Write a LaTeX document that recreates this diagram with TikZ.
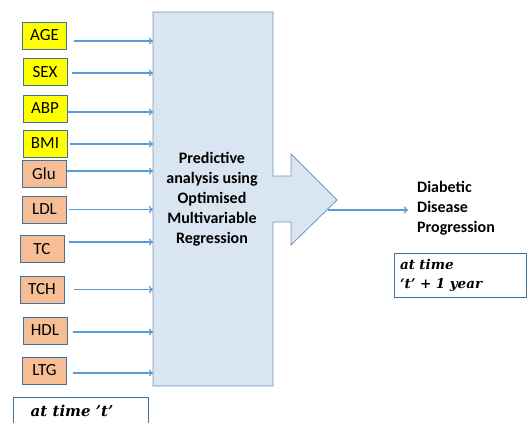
\documentclass[tikz,border=0pt]{standalone}
\usepackage{fontspec}
\newfontfamily\calibri{Carlito}
\newfontfamily\cambria{DejaVu Serif}
\usetikzlibrary{arrows.meta}
\definecolor{boxline}{HTML}{41719C}
\definecolor{inyellow}{HTML}{FFFF00}
\definecolor{inorange}{HTML}{F7BE95}
\definecolor{modelfill}{HTML}{DAE5F2}
\definecolor{modelline}{HTML}{7393B8}
\definecolor{flowline}{HTML}{5B9BD5}
\tikzset{
  inbox/.style={draw=boxline, line width=1pt, minimum width=44pt, minimum height=27pt, inner sep=0pt, font=\calibri\fontsize{17}{19}\selectfont},
  flow/.style={draw=flowline, line width=1.3pt, -{To[length=4pt,width=7pt]}},
  timebox/.style={draw=boxline, line width=1pt, fill=white},
}
\begin{document}
\begin{tikzpicture}[x=1pt,y=-1pt]
\path[use as bounding box] (0,0) rectangle (528,423);
\clip (0,0) rectangle (528,423);
% model block and its big arrow
\draw[modelline, fill=modelfill, line width=0.8pt] (153,12) -- (273,12) -- (273,176) -- (291,176) -- (291,154) -- (337,200) coordinate (tip) -- (291,245) -- (291,222) -- (273,222) -- (273,386) -- (153,386) -- cycle;
\coordinate (modelW) at (153,200);
\node[font=\calibri\bfseries\fontsize{16}{20}\selectfont, align=center] (model) at (212,199) {Predictive\\analysis using\\Optimised\\Multivariable\\Regression};
% input variables
\foreach \nm/\lbl/\col/\cx/\cy/\gap/\dy in {age/AGE/inyellow/44.5/35.5/7/5.5, sex/SEX/inyellow/45/72/4/1, abp/ABP/inyellow/45/108.5/0/3.5, bmi/BMI/inyellow/45/143.5/2/0.5, glu/Glu/inorange/44/174/0/-3, ldl/LDL/inorange/44.5/209.5/2/0, tc/TC/inorange/42/249/4/-7, tch/TCH/inorange/42/289.5/9/0, hdl/HDL/inorange/45/330.5/5/1.5, ltg/LTG/inorange/44.5/370.5/6/2.5}{
  \node[inbox, fill=\col] (\nm) at (\cx,\cy) {\lbl};
  \draw[flow] ([xshift=\gap pt, yshift=-\dy pt]\nm.east) coordinate (\nm-out) -- (\nm-out -| modelW);
}
\node[timebox, minimum width=135pt, minimum height=44pt] (nowbox) at (80.5,419) {};
\node[font=\cambria\bfseries\itshape\fontsize{15}{18}\selectfont] (now) at (72,411) {at time ’t’};
% output
\coordinate (outstart) at (328,210);
\node[anchor=west, font=\calibri\bfseries\fontsize{16}{20}\selectfont, align=left, inner xsep=9pt] (target) at (408,208) {Diabetic\\Disease\\Progression};
\draw[flow] (outstart) -- (outstart -| target.west);
\node[timebox, minimum width=132pt, minimum height=44pt, text width=120pt, align=left, font=\cambria\bfseries\itshape\fontsize{13.5}{19}\selectfont] (later) at (460,275) {at time\\‘t’ + 1 year};
\end{tikzpicture}
\end{document}
